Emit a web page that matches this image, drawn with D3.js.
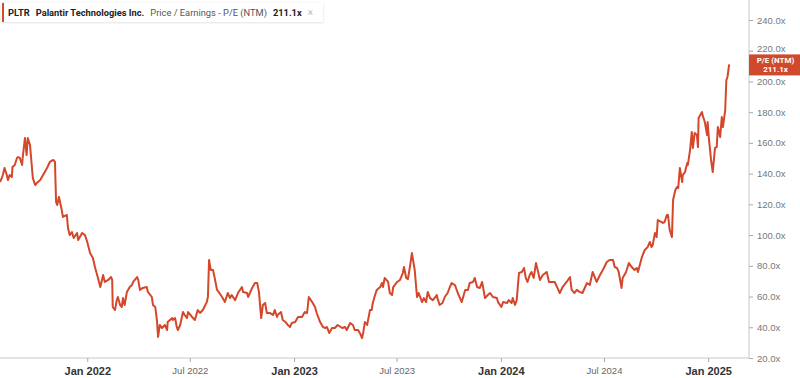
<!DOCTYPE html>
<html>
<head>
<meta charset="utf-8">
<script src="https://cdn.jsdelivr.net/npm/d3@7"></script>
<style>
    body { margin: 0; background: #fff; font-family: Roboto, "Liberation Sans", sans-serif; }
    svg { display: block; }
    .y-axis text { fill: #777; font-size: 9.5px; }
    .x-axis text { fill: #666; font-size: 9.5px; }
    .x-axis text.major { fill: #333; font-size: 11px; font-weight: bold; }
    .axis line { stroke: #aaa; }
</style>
</head>
<body>
<div id="chart"></div>
<script>
// P/E (NTM) readings
var dates = [
    "2021-07-31","2021-08-03","2021-08-05","2021-08-08","2021-08-12","2021-08-14","2021-08-17","2021-08-21",
    "2021-08-22","2021-08-26","2021-08-30","2021-09-01","2021-09-04","2021-09-08","2021-09-09","2021-09-13",
    "2021-09-16","2021-09-18","2021-09-22","2021-09-25","2021-09-27","2021-10-01","2021-10-04","2021-10-10",
    "2021-10-15","2021-10-22","2021-10-27","2021-11-02","2021-11-05","2021-11-07","2021-11-09","2021-11-12",
    "2021-11-17","2021-11-19","2021-11-26","2021-11-28","2021-12-01","2021-12-05","2021-12-08","2021-12-14",
    "2021-12-16","2021-12-23","2021-12-28","2022-01-01","2022-01-06","2022-01-11","2022-01-15","2022-01-20",
    "2022-01-24","2022-01-27","2022-01-29","2022-02-01","2022-02-07","2022-02-12","2022-02-14","2022-02-15",
    "2022-02-19","2022-02-22","2022-02-24","2022-02-28","2022-03-03","2022-03-05","2022-03-08","2022-03-12",
    "2022-03-14","2022-03-17","2022-03-21","2022-03-23","2022-03-30","2022-04-01","2022-04-04","2022-04-09",
    "2022-04-16","2022-04-18","2022-04-25","2022-04-27","2022-05-01","2022-05-04","2022-05-06","2022-05-09",
    "2022-05-13","2022-05-18","2022-05-22","2022-05-23","2022-05-27","2022-05-31","2022-06-01","2022-06-05",
    "2022-06-08","2022-06-10","2022-06-14","2022-06-19","2022-06-22","2022-06-26","2022-06-28","2022-07-05",
    "2022-07-10","2022-07-15","2022-07-19","2022-07-24","2022-07-31","2022-08-02","2022-08-04","2022-08-07",
    "2022-08-11","2022-08-14","2022-08-18","2022-08-21","2022-08-27","2022-09-01","2022-09-06","2022-09-10",
    "2022-09-13","2022-09-19","2022-09-24","2022-10-01","2022-10-03","2022-10-10","2022-10-12","2022-10-19",
    "2022-10-24","2022-10-28","2022-10-31","2022-11-04","2022-11-07","2022-11-11","2022-11-14","2022-11-19",
    "2022-11-25","2022-11-28","2022-12-02","2022-12-03","2022-12-09","2022-12-12","2022-12-17","2022-12-21",
    "2022-12-25","2022-12-28","2023-01-03","2023-01-08","2023-01-15","2023-01-20","2023-01-24","2023-01-27",
    "2023-02-02","2023-02-07","2023-02-10","2023-02-16","2023-02-21","2023-02-25","2023-02-28","2023-03-04",
    "2023-03-09","2023-03-14","2023-03-19","2023-03-27","2023-04-01","2023-04-04","2023-04-10","2023-04-15",
    "2023-04-18","2023-04-24","2023-04-27","2023-05-01","2023-05-03","2023-05-06","2023-05-10","2023-05-15",
    "2023-05-18","2023-05-20","2023-05-24","2023-05-27","2023-06-02","2023-06-05","2023-06-07","2023-06-10",
    "2023-06-16","2023-06-19","2023-06-23","2023-06-25","2023-07-02","2023-07-07","2023-07-12","2023-07-14",
    "2023-07-18","2023-07-21","2023-07-25","2023-07-28","2023-08-02","2023-08-06","2023-08-09","2023-08-15",
    "2023-08-18","2023-08-22","2023-08-25","2023-08-29","2023-09-03","2023-09-10","2023-09-11","2023-09-15",
    "2023-09-20","2023-09-24","2023-09-29","2023-10-03","2023-10-06","2023-10-12","2023-10-17","2023-10-24",
    "2023-10-30","2023-11-04","2023-11-07","2023-11-13","2023-11-16","2023-11-20","2023-11-25","2023-11-29",
    "2023-12-04","2023-12-09","2023-12-13","2023-12-18","2023-12-25","2023-12-27","2024-01-02","2024-01-05",
    "2024-01-12","2024-01-15","2024-01-20","2024-01-22","2024-01-26","2024-01-29","2024-02-02","2024-02-07",
    "2024-02-11","2024-02-14","2024-02-17","2024-02-21","2024-02-24","2024-02-28","2024-03-03","2024-03-06",
    "2024-03-10","2024-03-15","2024-03-22","2024-03-26","2024-03-31","2024-04-05","2024-04-10","2024-04-14",
    "2024-04-19","2024-04-26","2024-05-02","2024-05-05","2024-05-10","2024-05-14","2024-05-19","2024-05-24",
    "2024-06-01","2024-06-06","2024-06-11","2024-06-18","2024-06-24","2024-06-29","2024-07-06","2024-07-11",
    "2024-07-17","2024-07-20","2024-07-24","2024-07-27","2024-08-01","2024-08-03","2024-08-09","2024-08-14",
    "2024-08-19","2024-08-24","2024-08-28","2024-08-30","2024-09-06","2024-09-11","2024-09-16","2024-09-20",
    "2024-09-23","2024-09-25","2024-09-29","2024-10-02","2024-10-04","2024-10-11","2024-10-13","2024-10-16",
    "2024-10-20","2024-10-22","2024-10-25","2024-10-29","2024-10-31","2024-11-04","2024-11-07","2024-11-09",
    "2024-11-12","2024-11-16","2024-11-17","2024-11-21","2024-11-25","2024-11-26","2024-11-30","2024-12-03",
    "2024-12-05","2024-12-08","2024-12-12","2024-12-14","2024-12-15","2024-12-21","2024-12-22","2024-12-26",
    "2024-12-30","2024-12-31","2025-01-02","2025-01-06","2025-01-09","2025-01-11","2025-01-13","2025-01-16",
    "2025-01-18","2025-01-22","2025-01-25","2025-01-27","2025-01-31","2025-02-02","2025-02-04","2025-02-07"
];

var peValues = [
    134.5,137.1,139.1,143.7,139.1,135.8,139.1,137.8,
    144.3,145.6,150.2,150.8,150.2,145.6,150.2,163.2,
    152.1,163.2,158.6,145.6,137.1,132.6,133.9,135.8,
    139.1,143.7,147.6,148.9,147.6,121.5,119.6,124.8,
    116.3,111.8,113.1,104.6,100.0,102.0,98.1,101.4,
    96.8,101.4,100.0,95.5,88.3,85.1,78.6,72.1,
    66.2,70.8,74.0,69.5,70.8,72.7,70.8,53.2,
    51.2,57.7,59.7,54.5,53.2,59.0,54.5,63.0,
    64.3,66.2,67.5,69.5,72.7,70.8,64.3,65.6,
    66.2,63.0,59.7,54.5,53.2,44.7,33.7,41.5,
    39.5,41.5,38.2,43.4,44.7,46.0,44.7,46.0,
    40.2,38.2,41.5,49.9,48.0,46.0,49.9,46.7,
    44.7,51.2,49.3,51.2,56.4,59.7,83.8,77.3,
    77.3,72.1,64.3,63.0,59.7,56.4,62.3,59.0,
    61.0,57.7,62.3,66.2,63.0,62.3,59.7,65.6,
    68.8,68.8,63.0,46.0,54.5,55.8,49.3,49.3,
    48.0,51.2,46.7,48.0,49.9,44.7,43.4,41.5,
    40.2,42.8,43.4,46.7,46.7,49.9,49.3,59.7,
    56.4,53.2,49.3,43.4,40.2,39.5,40.2,36.3,
    39.5,39.5,41.5,39.5,40.2,38.2,42.8,41.5,
    38.2,38.2,36.3,33.0,36.3,43.4,41.5,51.2,
    51.2,55.8,61.0,64.3,66.2,68.8,66.2,72.1,
    69.5,62.3,61.0,66.2,69.5,70.8,75.3,79.2,
    72.1,71.4,80.5,88.3,77.3,59.7,62.3,56.4,
    59.0,56.4,63.0,59.0,57.7,61.0,59.0,54.5,
    55.8,59.7,62.3,66.2,68.8,67.5,62.3,56.4,
    64.3,64.3,68.8,69.5,72.1,66.2,65.6,69.5,
    59.0,61.0,62.3,59.7,59.0,56.4,53.2,56.4,
    55.8,57.7,55.8,59.0,54.5,57.7,75.3,76.0,
    78.6,72.1,69.5,74.0,76.0,72.1,81.8,77.3,
    70.8,74.0,76.0,69.5,69.5,69.5,65.6,62.3,
    66.2,69.5,72.7,64.3,62.3,64.3,63.0,62.3,
    68.8,67.5,76.0,69.5,74.0,77.3,82.5,83.8,
    83.8,79.2,78.6,76.0,65.6,72.1,76.0,81.8,
    79.2,77.3,78.6,76.0,85.7,90.3,92.2,95.5,
    92.2,93.5,101.4,98.7,109.8,108.5,107.9,108.5,
    113.1,113.1,103.3,98.7,122.8,129.3,131.3,130.6,
    143.7,134.5,139.1,141.0,146.9,145.6,155.4,167.1,
    156.7,166.4,165.1,157.3,176.2,180.1,178.1,173.6,
    165.1,173.6,163.8,148.9,141.0,148.9,156.7,157.3,
    170.3,163.8,176.8,170.3,181.4,200.9,202.9,211.1
];

var xTickDates = ["2022-01-01","2022-07-01","2023-01-01","2023-07-01","2024-01-01","2024-07-01","2025-01-01"];
var xTickLabels = ["Jan 2022","Jul 2022","Jan 2023","Jul 2023","Jan 2024","Jul 2024","Jan 2025"];
var yTicks = [20, 40, 60, 80, 100, 120, 140, 160, 180, 200, 220, 240];

var ticker = "PLTR";
var company = "Palantir Technologies Inc.";
var metric = "Price / Earnings - P/E (NTM)";
var lastLabel = "211.1x";

var lineColor = "#d4472a";

var width = 800, height = 378;
var plotRight = 749, plotBottom = 358;

var parse = d3.timeParse("%Y-%m-%d");
var series = dates.map(function(d, i) { return { date: parse(d), value: peValues[i] }; });

var svg = d3.select("#chart").append("svg")
    .attr("width", width)
    .attr("height", height);

// scales
var x = d3.scaleTime()
    .domain([parse("2021-07-31"), parse("2025-03-14")])
    .range([0, plotRight]);
var y = d3.scaleLinear()
    .domain([20, 240])
    .range([plotBottom, 20]);

// axis frame lines
svg.append("line")
    .attr("x1", plotRight).attr("x2", plotRight)
    .attr("y1", 0).attr("y2", plotBottom)
    .attr("stroke", "#c8c8c8");
svg.append("line")
    .attr("x1", 0).attr("x2", plotRight)
    .attr("y1", plotBottom).attr("y2", plotBottom)
    .attr("stroke", "#c8c8c8");

// y axis on the right
var yAxis = svg.append("g")
    .attr("class", "y-axis axis")
    .attr("transform", "translate(" + plotRight + ",0)")
    .call(d3.axisRight(y).tickValues(yTicks).tickSize(4).tickPadding(4)
        .tickFormat(function(d) { return d.toFixed(1) + "x"; }));
yAxis.select(".domain").remove();
// the 220 label sits just above the value flag, as in the original
yAxis.selectAll(".tick text").filter(function(d) { return d === 220; }).attr("dy", "0.1em");

// x axis
var xAxis = svg.append("g")
    .attr("class", "x-axis axis")
    .attr("transform", "translate(0," + plotBottom + ")")
    .call(d3.axisBottom(x).tickValues(xTickDates.map(parse)).tickSize(4).tickPadding(5)
        .tickFormat(function(d, i) { return xTickLabels[i]; }));
xAxis.select(".domain").remove();
xAxis.selectAll("text")
    .classed("major", function(d, i) { return xTickLabels[i].indexOf("Jan") === 0; });

// the P/E line
var valueLine = d3.line()
    .x(function(d) { return x(d.date); })
    .y(function(d) { return y(d.value); });

svg.append("path")
    .datum(series)
    .attr("fill", "none")
    .attr("stroke", lineColor)
    .attr("stroke-width", 2)
    .attr("stroke-linejoin", "round")
    .attr("d", valueLine);

// last value flag on the right axis
var last = series[series.length - 1];
var flag = svg.append("g")
    .attr("transform", "translate(" + plotRight + "," + (y(last.value) - 10) + ")");
flag.append("rect")
    .attr("width", width - plotRight)
    .attr("height", 21)
    .attr("fill", "#cf4a2c");
flag.append("text")
    .attr("x", (width - plotRight) / 2 + 1).attr("y", 9)
    .attr("text-anchor", "middle")
    .attr("fill", "#fff").attr("font-size", 8).attr("font-weight", "bold")
    .text("P/E (NTM)");
flag.append("text")
    .attr("x", (width - plotRight) / 2 + 1).attr("y", 18)
    .attr("text-anchor", "middle")
    .attr("fill", "#fff").attr("font-size", 8).attr("font-weight", "bold")
    .text(last.value.toFixed(1) + "x");

// legend chip top-left
var defs = svg.append("defs");
var shadow = defs.append("filter").attr("id", "chip-shadow")
    .attr("x", "-5%").attr("y", "-30%").attr("width", "110%").attr("height", "160%");
shadow.append("feDropShadow")
    .attr("dx", 0).attr("dy", 0.5).attr("stdDeviation", 1)
    .attr("flood-color", "#000").attr("flood-opacity", 0.15);

var chip = svg.append("g").attr("transform", "translate(0,3)");
chip.append("rect")
    .attr("x", 1).attr("width", 322).attr("height", 19)
    .attr("fill", "#fff")
    .attr("filter", "url(#chip-shadow)");
chip.append("rect")
    .attr("x", 2).attr("width", 2).attr("height", 19)
    .attr("fill", lineColor);

var chipText = chip.append("text")
    .attr("x", 8).attr("y", 12.8)
    .attr("font-size", 9.3);
chipText.append("tspan").attr("font-weight", "bold").attr("fill", "#222").text(ticker);
chipText.append("tspan").attr("dx", 6).attr("font-weight", "bold").attr("fill", "#222").text(company);
chipText.append("tspan").attr("dx", 6).attr("fill", "#555").text(metric);
chipText.append("tspan").attr("dx", 6).attr("font-weight", "bold").attr("fill", "#222").text(lastLabel);
chipText.append("tspan").attr("dx", 6).attr("fill", "#bbb").attr("font-size", 10).text("\u00d7");
</script>
</body>
</html>
